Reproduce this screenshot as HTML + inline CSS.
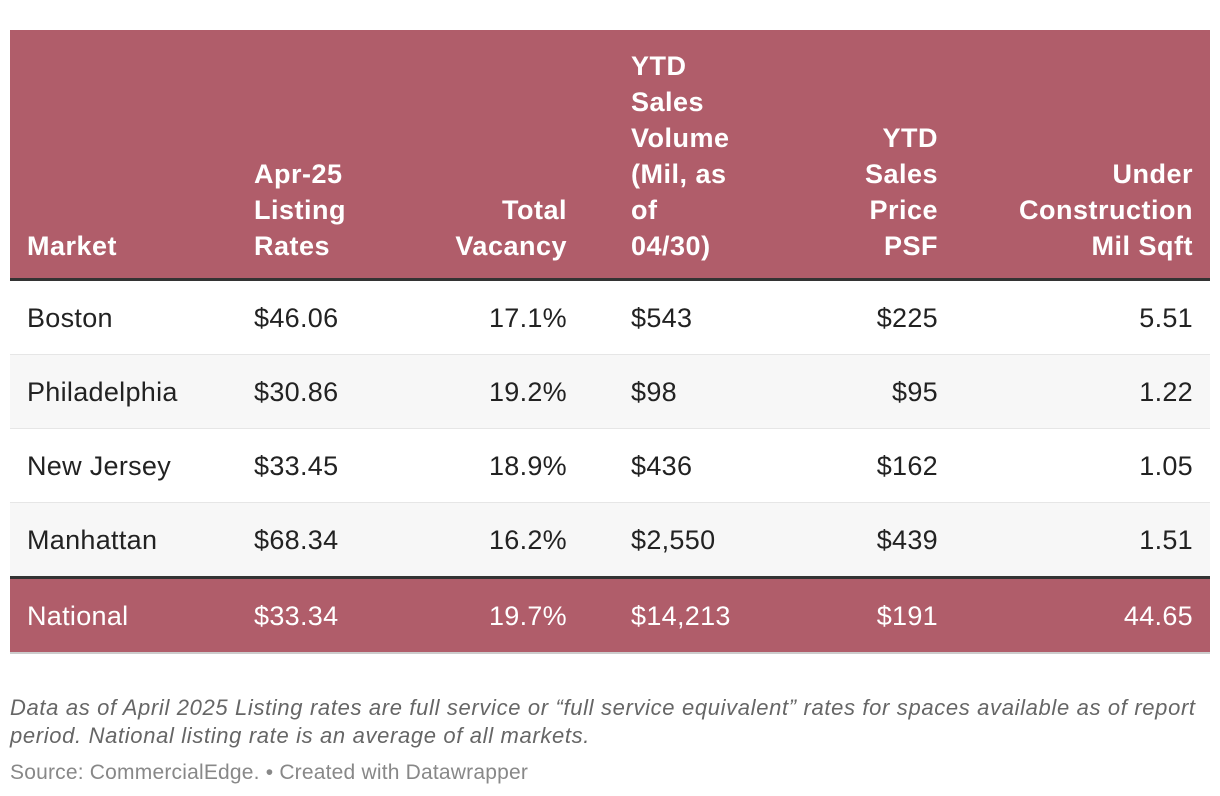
<!DOCTYPE html>
<html><head><meta charset="utf-8"><style>
body{margin:0;width:1220px;height:796px;background:#fff;font-family:"Liberation Sans",sans-serif;position:relative;overflow:hidden}
.hdr{position:absolute;left:10px;top:30px;width:1200px;height:248px;background:#b05d6a}
.hl{position:absolute;font-weight:bold;color:#fff;font-size:27px;letter-spacing:0.5px;line-height:36px;bottom:0;padding-bottom:14px;white-space:nowrap}
.row{position:absolute;left:10px;width:1200px;height:73px;border-bottom:2px solid #e6e6e6}
.c{position:absolute;top:1px;line-height:73px;font-size:27px;letter-spacing:0.3px;color:#222;white-space:nowrap}
.r{text-align:right}
.note{position:absolute;left:10px;font-size:22px;letter-spacing:0.65px;color:#666;font-style:italic;line-height:28px;white-space:nowrap}
</style></head><body>
<div class="hdr">
<div class="hl" style="left:17px">Market</div>
<div class="hl" style="left:244px">Apr-25<br>Listing<br>Rates</div>
<div class="hl" style="right:643px;text-align:right">Total<br>Vacancy</div>
<div class="hl" style="left:621px">YTD<br>Sales<br>Volume<br>(Mil, as<br>of<br>04/30)</div>
<div class="hl" style="right:272px;text-align:right">YTD<br>Sales<br>Price<br>PSF</div>
<div class="hl" style="right:17px;text-align:right">Under<br>Construction<br>Mil Sqft</div>
</div>
<div style="position:absolute;left:10px;top:278px;width:1200px;height:3px;background:#333"></div>
<div id="rows"></div>
<div style="position:absolute;left:10px;top:576px;width:1200px;height:3px;background:#333"></div>
<div class="note" style="top:694px">Data as of April 2025 Listing rates are full service or “full service equivalent” rates for spaces available as of report<br>period. National listing rate is an average of all markets.</div>
<div class="note" style="top:759px;font-style:normal;font-size:21px;letter-spacing:0.2px;color:#888">Source: CommercialEdge. • Created with Datawrapper</div>
<script>
const markets=["Boston","Philadelphia","New Jersey","Manhattan","National"];
const rates=["$46.06","$30.86","$33.45","$68.34","$33.34"];
const vacancy=["17.1%","19.2%","18.9%","16.2%","19.7%"];
const volume=["$543","$98","$436","$2,550","$14,213"];
const price=["$225","$95","$162","$439","$191"];
const construction=["5.51","1.22","1.05","1.51","44.65"];
const tops=[281,355,429,503,579];
const host=document.getElementById('rows');
markets.forEach((m,i)=>{
 const r=document.createElement('div');
 r.className='row';
 
 
 r.style.top=tops[i]+'px';
 const nat=i===4;
 r.style.background=nat?'#b05d6a':(i%2?'#f7f7f7':'#fff');
 if(nat){r.style.borderBottom='2px solid #ccc';}
 const cells=[[m,'left:17px',''],[rates[i],'left:244px',''],[vacancy[i],'right:643px','r'],[volume[i],'left:621px',''],[price[i],'right:272px','r'],[construction[i],'right:17px','r']];
 const names=['market','listing-rate','vacancy','sales-volume','sales-price','under-construction'];
 cells.forEach((c,j)=>{
  const d=document.createElement('div');
  d.className='c '+c[2];
  
  
  d.style.cssText+=c[1];
  if(nat)d.style.color='#fff';
  d.textContent=c[0];
  r.appendChild(d);
 });
 host.appendChild(r);
});
</script>
</body></html>
